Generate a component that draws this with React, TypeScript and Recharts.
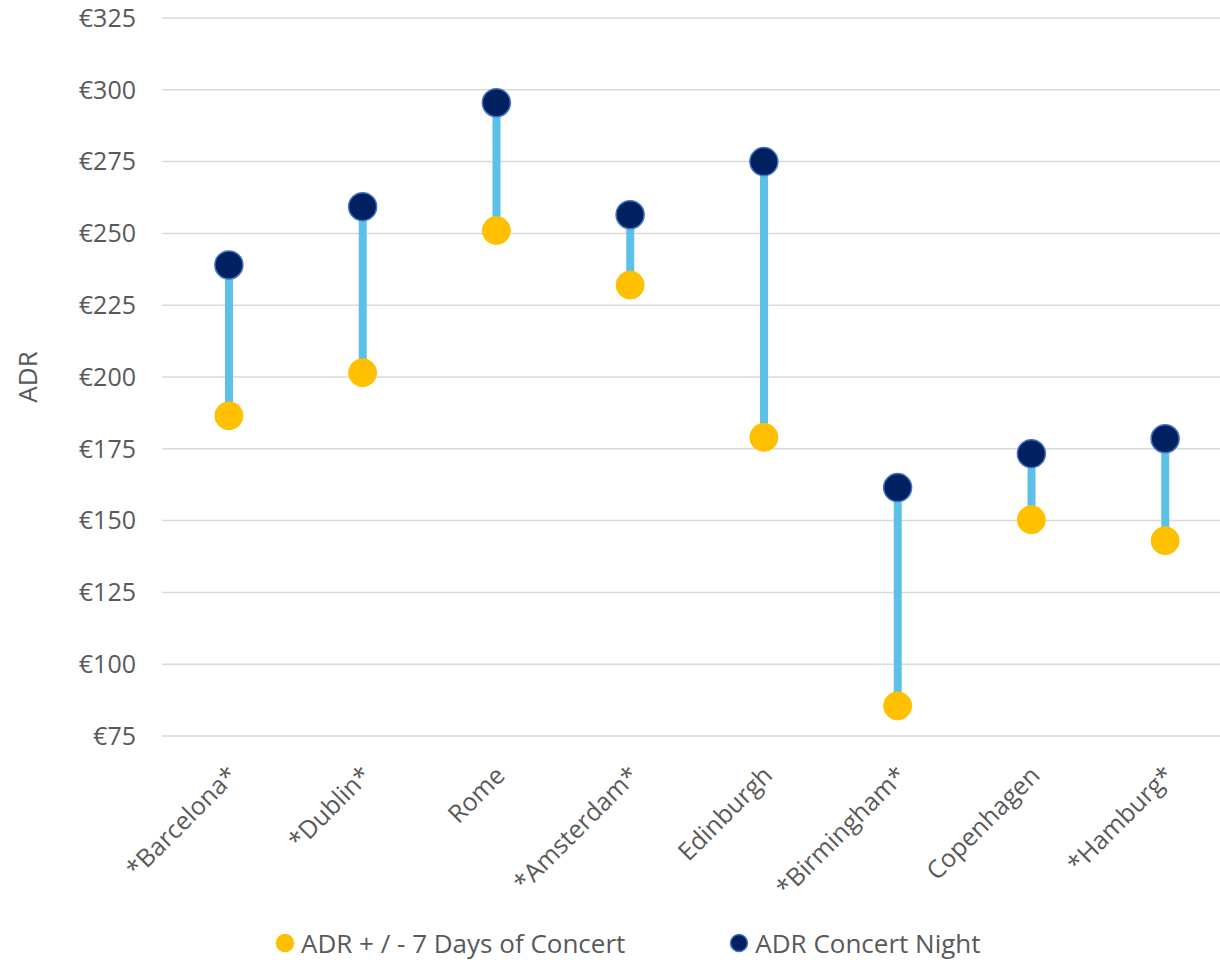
import { ComposedChart, Bar, Line, XAxis, YAxis, CartesianGrid, Legend } from "recharts";

const cities = ["*Barcelona*", "*Dublin*", "Rome", "*Amsterdam*", "Edinburgh", "*Birmingham*", "Copenhagen", "*Hamburg*"];
const adrAround = [186.5, 201.5, 251, 232, 179, 85.5, 150.3, 143];
const adrNight = [239, 259.3, 295.5, 256.5, 275, 161.5, 173.3, 178.5];
const yTicks = [75, 100, 125, 150, 175, 200, 225, 250, 275, 300, 325];

const AROUND_LABEL = "ADR + / - 7 Days of Concert";
const NIGHT_LABEL = "ADR Concert Night";

const data = cities.map((city, i) => ({
  city,
  around: adrAround[i],
  night: adrNight[i],
  range: [adrAround[i], adrNight[i]],
}));

const FONT = "'Open Sans', sans-serif";
const GREY = "#595959";
const YELLOW = "#FFC000";
const NAVY = "#002060";
const NAVY_EDGE = "#4472C4";
const CONNECTOR = "#5BC1E9";

function CityTick({ x, y, payload }: any) {
  return (
    <text
      transform={`translate(${x + 10},${y + 33}) rotate(-45)`}
      textAnchor="end"
      fill={GREY}
      fontSize={25}
      fontFamily={FONT}
    >
      {payload.value}
    </text>
  );
}

function LegendBox() {
  const item = (color: string, edge: string, label: string) => (
    <div style={{ display: "flex", alignItems: "center" }}>
      <svg width={20} height={20} style={{ marginRight: 6 }}>
        <circle cx={10} cy={10} r={8.5} fill={color} stroke={edge} strokeWidth={1.5} />
      </svg>
      <span style={{ lineHeight: "30px" }}>{label}</span>
    </div>
  );
  return (
    <div
      style={{
        display: "flex",
        gap: 104,
        paddingLeft: 275,
        height: 30,
        lineHeight: "30px",
        alignItems: "center",
        fontFamily: FONT,
        fontSize: 26,
        color: GREY,
      }}
    >
      {item(YELLOW, YELLOW, AROUND_LABEL)}
      {item(NAVY, NAVY_EDGE, NIGHT_LABEL)}
    </div>
  );
}

export default function App() {
  return (
    <div style={{ position: "absolute", left: 0, top: 0, width: 1220, height: 960, overflow: "hidden", background: "#fff" }}>
      <ComposedChart width={1232} height={960} data={data} margin={{ top: 18, right: 0, bottom: 2, left: 10 }}>
        <CartesianGrid vertical={false} stroke="#D9D9D9" strokeWidth={1.5} />
        <XAxis
          dataKey="city"
          axisLine={false}
          tickLine={false}
          interval={0}
          height={192}
          tick={<CityTick />}
        />
        <YAxis
          type="number"
          domain={[75, 325]}
          ticks={yTicks}
          width={152}
          axisLine={false}
          tickLine={false}
          tickMargin={20}
          tickFormatter={(v) => `€${v}`}
          tick={{ fill: GREY, fontSize: 25, fontFamily: FONT }}
          label={({ viewBox }: any) => (
            <text
              transform={`translate(27,${viewBox.y + viewBox.height / 2}) rotate(-90)`}
              textAnchor="middle"
              dominantBaseline="central"
              fill={GREY}
              fontSize={26}
              fontFamily={FONT}
            >
              ADR
            </text>
          )}
        />
        <Legend verticalAlign="bottom" content={<LegendBox />} wrapperStyle={{ left: 0, width: 1220 }} />
        <Bar dataKey="range" barSize={8} fill={CONNECTOR} legendType="none" isAnimationActive={false} />
        <Line
          dataKey="around"
          name={AROUND_LABEL}
          stroke="none"
          dot={{ r: 14, fill: YELLOW, stroke: YELLOW, strokeWidth: 1 }}
          activeDot={false}
          isAnimationActive={false}
        />
        <Line
          dataKey="night"
          name={NIGHT_LABEL}
          stroke="none"
          dot={{ r: 14, fill: NAVY, stroke: NAVY_EDGE, strokeWidth: 1.5 }}
          activeDot={false}
          isAnimationActive={false}
        />
      </ComposedChart>
    </div>
  );
}
